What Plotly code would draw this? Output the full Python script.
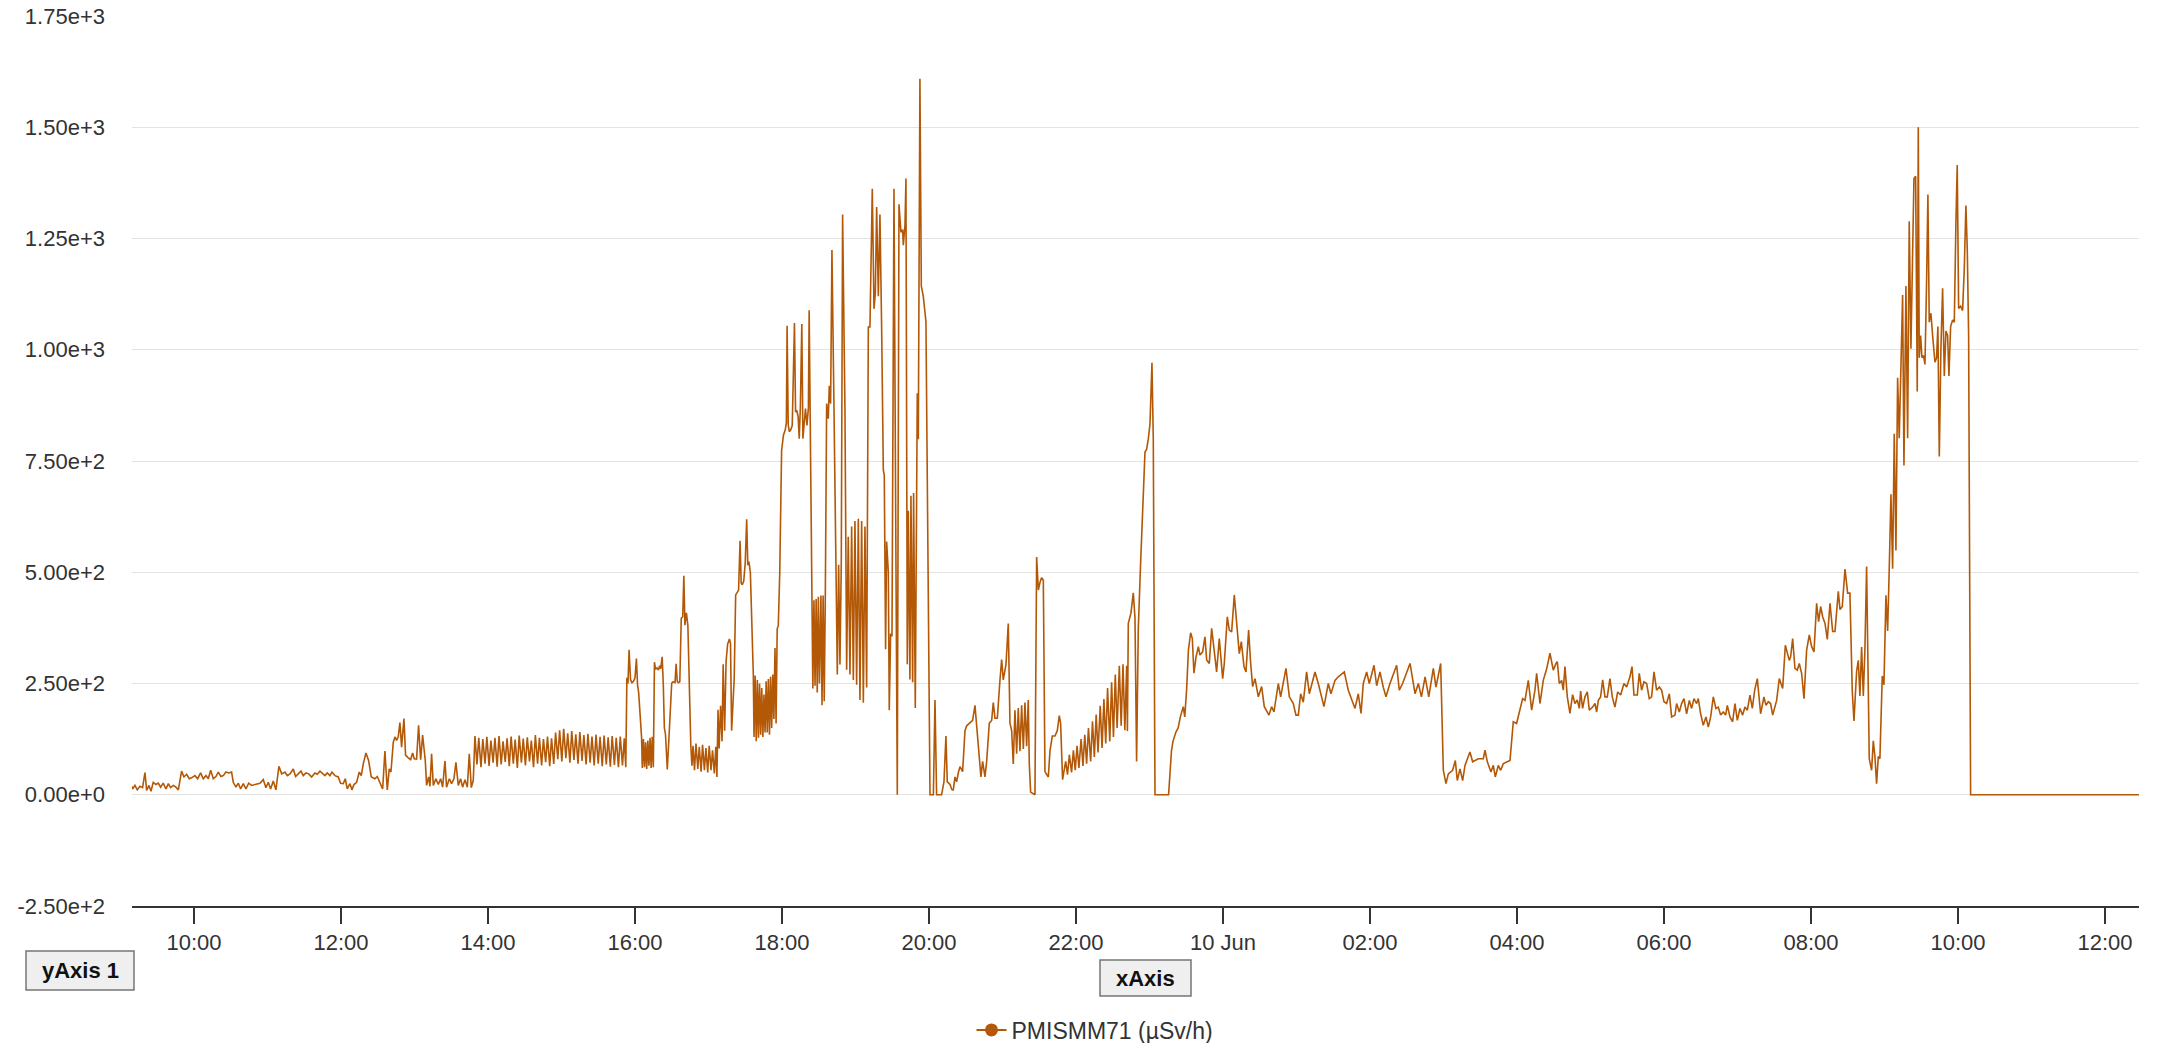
import pandas as pd
import plotly.graph_objects as go

# ---- data: (hours since 2024-06-09 00:00, value in µSv/h) ----
seg_morning = [
    (9.157, 19), (9.165, 13), (9.197, 21), (9.229, 11), (9.265, 19), (9.301, 16), (9.333, 50), (9.356, 10),
    (9.388, 21), (9.415, 8), (9.446, 28), (9.483, 23), (9.514, 26), (9.546, 17), (9.582, 26), (9.619, 13),
    (9.651, 25), (9.682, 16), (9.719, 21), (9.755, 17), (9.787, 11), (9.832, 53), (9.864, 40), (9.9, 46),
    (9.936, 36), (9.968, 38), (10.013, 43), (10.05, 36), (10.09, 49), (10.127, 36), (10.163, 43), (10.195, 36),
    (10.227, 55), (10.263, 36), (10.299, 41), (10.331, 51), (10.367, 41), (10.399, 43), (10.435, 51), (10.471, 49),
    (10.512, 51), (10.535, 28), (10.571, 17), (10.603, 26), (10.635, 13), (10.671, 25), (10.707, 13), (10.744, 26),
    (10.784, 21), (10.83, 23), (10.898, 26), (10.943, 34), (10.979, 16), (11.011, 28), (11.043, 13), (11.079, 31),
    (11.115, 11), (11.156, 64), (11.193, 47), (11.238, 51), (11.27, 43), (11.306, 47), (11.351, 58), (11.383, 41),
    (11.419, 47), (11.456, 53), (11.487, 43), (11.524, 49), (11.56, 47), (11.601, 40), (11.646, 49), (11.678, 46),
    (11.714, 53), (11.75, 47), (11.782, 43), (11.814, 49), (11.85, 43), (11.877, 51), (11.918, 43), (11.963, 40),
    (11.995, 26), (12.031, 25), (12.059, 36), (12.086, 13), (12.122, 25), (12.149, 11), (12.177, 23), (12.213, 28),
    (12.249, 51), (12.276, 43), (12.304, 70), (12.34, 94), (12.376, 77), (12.412, 40), (12.462, 36), (12.494, 41),
    (12.53, 28), (12.567, 13), (12.598, 98), (12.63, 11), (12.657, 58), (12.68, 51), (12.712, 118), (12.735, 130),
    (12.757, 122), (12.78, 131), (12.802, 162), (12.825, 107), (12.857, 171), (12.879, 89), (12.916, 83), (12.948, 79),
    (12.975, 94), (12.997, 81), (13.029, 80), (13.056, 156), (13.084, 79), (13.111, 134), (13.147, 77), (13.165, 21),
    (13.193, 40), (13.211, 19), (13.233, 92), (13.256, 21), (13.292, 36), (13.324, 23), (13.356, 36), (13.383, 17),
    (13.415, 76), (13.437, 17), (13.474, 36), (13.505, 25), (13.537, 36), (13.564, 73), (13.596, 21), (13.628, 36),
    (13.655, 17), (13.687, 34), (13.719, 17), (13.746, 92), (13.773, 16), (13.8, 32),
]

seg_afternoon = [
    (13.823, 132), (13.85, 68), (13.875, 128), (13.905, 62), (13.93, 125), (13.96, 70), (13.985, 130), (14.015, 65),
    (14.04, 122), (14.07, 72), (14.095, 128), (14.125, 63), (14.15, 132), (14.18, 68), (14.205, 120), (14.235, 74),
    (14.26, 127), (14.29, 64), (14.315, 131), (14.345, 70), (14.37, 124), (14.40, 60), (14.425, 133), (14.455, 72),
    (14.48, 126), (14.51, 66), (14.535, 129), (14.565, 75), (14.59, 122), (14.62, 62), (14.645, 134), (14.675, 70),
    (14.70, 128), (14.73, 66), (14.755, 125), (14.785, 73), (14.81, 131), (14.84, 64), (14.865, 127), (14.895, 69),
    (14.92, 140), (14.95, 80), (14.975, 145), (15.005, 75), (15.03, 148), (15.06, 82), (15.085, 138), (15.115, 72),
    (15.14, 143), (15.17, 78), (15.195, 136), (15.225, 70), (15.25, 141), (15.28, 76), (15.305, 134), (15.335, 68),
    (15.36, 137), (15.39, 72), (15.415, 131), (15.445, 66), (15.47, 135), (15.50, 70), (15.525, 130), (15.555, 64),
    (15.58, 133), (15.61, 68), (15.635, 129), (15.665, 63), (15.69, 132), (15.72, 67), (15.745, 128), (15.775, 62),
    (15.80, 131), (15.83, 66), (15.855, 127), (15.875, 62),
    (15.89, 263), (15.905, 250), (15.92, 326), (15.94, 258), (15.96, 252), (15.98, 255), (16.00, 262), (16.02, 306),
    (16.035, 247), (16.05, 230), (16.07, 180), (16.09, 128), (16.10, 60), (16.115, 125), (16.13, 62), (16.145, 118),
    (16.16, 58), (16.175, 122), (16.19, 65), (16.205, 128), (16.22, 60), (16.235, 130), (16.25, 62), (16.265, 298),
    (16.28, 282), (16.30, 285), (16.32, 280), (16.335, 290), (16.35, 283), (16.37, 310), (16.385, 250), (16.40, 150),
    (16.415, 136), (16.44, 57), (16.465, 136), (16.49, 230), (16.50, 251), (16.52, 254), (16.545, 252), (16.56, 294),
    (16.575, 255), (16.59, 252), (16.61, 254), (16.63, 397), (16.65, 400), (16.665, 492), (16.68, 381), (16.70, 409),
    (16.72, 380), (16.76, 110),
    (16.775, 65), (16.79, 110), (16.81, 55), (16.83, 115), (16.855, 58), (16.875, 108), (16.90, 52), (16.92, 112),
    (16.945, 55), (16.965, 105), (16.99, 50), (17.01, 110), (17.035, 55), (17.055, 100), (17.08, 48), (17.10, 108),
    (17.115, 40),
    (17.13, 191), (17.145, 104), (17.165, 200), (17.185, 120), (17.20, 293), (17.22, 144), (17.24, 300), (17.26, 338),
    (17.285, 350), (17.30, 340), (17.315, 144), (17.335, 223), (17.35, 260), (17.37, 449), (17.39, 456), (17.41, 460),
    (17.43, 571), (17.445, 476), (17.46, 472), (17.48, 480), (17.50, 520), (17.52, 619), (17.535, 516), (17.55, 524),
    (17.57, 500), (17.59, 400), (17.61, 271),
    (17.62, 130), (17.635, 268), (17.65, 120), (17.665, 258), (17.68, 128), (17.695, 250), (17.71, 135), (17.725, 240),
    (17.74, 130), (17.755, 225), (17.77, 140), (17.785, 255), (17.80, 140), (17.815, 260), (17.83, 135), (17.845, 265),
    (17.86, 150), (17.875, 270), (17.89, 170), (17.905, 330), (17.92, 160), (17.935, 373), (17.95, 380), (17.97, 500),
]

seg_evening = [
    (17.995, 773), (18.02, 808), (18.045, 820), (18.06, 836), (18.07, 1054), (18.085, 832), (18.10, 816), (18.12, 820),
    (18.14, 830), (18.17, 1060), (18.185, 860), (18.20, 864), (18.22, 850), (18.235, 800), (18.25, 870), (18.27, 1058),
    (18.285, 800), (18.30, 840), (18.32, 868), (18.34, 830), (18.36, 870), (18.37, 1089), (18.39, 700), (18.40, 460),
    (18.42, 239), (18.435, 437), (18.45, 245), (18.465, 440), (18.48, 230), (18.495, 445), (18.51, 250), (18.53, 448),
    (18.545, 201), (18.56, 448), (18.575, 210), (18.59, 450),
    (18.608, 879), (18.63, 845), (18.644, 919), (18.662, 879), (18.68, 1224), (18.707, 879), (18.735, 511), (18.753, 270),
    (18.771, 517), (18.789, 293), (18.807, 520), (18.825, 1304), (18.857, 867), (18.88, 281), (18.902, 580), (18.925, 270),
    (18.948, 603), (18.971, 258), (18.993, 615), (19.016, 247), (19.039, 620), (19.061, 213), (19.084, 615), (19.107, 207),
    (19.129, 603), (19.152, 241), (19.175, 1051), (19.197, 1051), (19.229, 1362), (19.252, 1092), (19.27, 1126), (19.288, 1321),
    (19.311, 1120), (19.333, 1304), (19.356, 1051), (19.379, 730), (19.392, 718), (19.41, 327), (19.424, 569), (19.447, 500),
    (19.46, 190), (19.478, 362), (19.497, 356), (19.524, 1362), (19.551, 520), (19.569, 0), (19.592, 1327), (19.619, 1264),
    (19.642, 1270), (19.651, 1235), (19.674, 1281), (19.687, 1385), (19.705, 293), (19.719, 638), (19.741, 259), (19.755, 672),
    (19.778, 253), (19.791, 678), (19.814, 195), (19.841, 902), (19.855, 799), (19.877, 1609), (19.896, 1143), (19.923, 1120),
    (19.959, 1063), (20.014, 0), (20.06, 0), (20.082, 213), (20.104, 0), (20.172, 0), (20.204, 29), (20.231, 132),
    (20.249, 29), (20.286, 23), (20.31, 12), (20.331, 11), (20.354, 40), (20.376, 29), (20.40, 50), (20.422, 63),
    (20.458, 52), (20.49, 144), (20.513, 155), (20.558, 161), (20.594, 167), (20.626, 201), (20.649, 155), (20.685, 75),
    (20.707, 40), (20.73, 75), (20.762, 40), (20.785, 75), (20.821, 161), (20.853, 167), (20.875, 207), (20.898, 172),
    (20.93, 172), (20.966, 258), (20.989, 304), (21.011, 258), (21.048, 293), (21.079, 385), (21.102, 161), (21.125, 144),
    (21.147, 69), (21.17, 190), (21.193, 92), (21.215, 195), (21.238, 98), (21.261, 201), (21.284, 103), (21.306, 207),
    (21.329, 109), (21.351, 213), (21.365, 69), (21.383, 6), (21.442, 0), (21.465, 534), (21.488, 460), (21.51, 477),
    (21.533, 488), (21.556, 482), (21.578, 52), (21.624, 40), (21.646, 98), (21.678, 132), (21.714, 132), (21.746, 144),
    (21.773, 178), (21.791, 161), (21.818, 34),
]

seg_late = [
    (21.86, 75), (21.885, 45), (21.91, 90), (21.94, 50), (21.965, 100), (21.99, 55), (22.015, 110), (22.04, 60),
    (22.07, 125), (22.095, 65), (22.12, 135), (22.145, 70), (22.17, 150), (22.20, 75), (22.225, 165), (22.25, 85),
    (22.275, 180), (22.30, 95), (22.33, 200), (22.355, 105), (22.38, 215), (22.405, 115), (22.43, 240), (22.46, 120),
    (22.485, 253), (22.51, 130), (22.535, 270), (22.56, 150), (22.59, 290), (22.615, 155), (22.64, 293), (22.665, 145),
    (22.69, 290), (22.70, 143), (22.712, 385), (22.748, 408), (22.78, 454), (22.803, 397), (22.825, 75), (22.848, 373),
    (22.88, 523), (22.907, 638), (22.939, 770), (22.961, 776), (22.984, 799), (23.007, 833), (23.034, 971), (23.052, 799),
    (23.075, 0), (23.26, 0), (23.28, 50), (23.30, 100), (23.32, 120), (23.36, 141), (23.39, 150), (23.42, 175),
    (23.46, 198), (23.48, 175), (23.505, 235), (23.53, 325), (23.56, 364), (23.583, 351), (23.605, 273), (23.633, 309),
    (23.665, 333), (23.687, 314), (23.723, 321), (23.755, 355), (23.778, 303), (23.814, 295), (23.846, 374), (23.882, 317),
    (23.914, 276), (23.95, 351), (23.996, 261), (24.018, 295), (24.059, 400), (24.086, 370), (24.118, 366), (24.154, 449),
    (24.186, 385), (24.222, 317), (24.25, 344), (24.286, 288), (24.313, 276), (24.349, 370), (24.377, 295), (24.404, 243),
    (24.436, 261), (24.481, 220), (24.526, 243), (24.562, 198), (24.626, 179), (24.662, 198), (24.694, 186), (24.753, 250),
    (24.785, 220), (24.857, 284), (24.903, 220), (24.957, 205), (24.993, 179), (25.025, 179), (25.057, 227), (25.093, 208),
    (25.138, 276), (25.175, 227), (25.252, 276), (25.297, 250), (25.374, 198), (25.433, 250), (25.469, 227), (25.524, 257),
    (25.569, 265), (25.651, 276), (25.705, 235), (25.751, 216), (25.796, 194), (25.841, 227), (25.878, 183), (25.909, 250),
    (25.955, 276), (25.991, 250), (26.055, 291), (26.091, 245), (26.136, 276), (26.182, 241), (26.218, 220), (26.272, 250),
    (26.363, 291), (26.399, 235), (26.444, 250), (26.545, 295), (26.613, 227), (26.658, 250), (26.70, 220), (26.75, 265),
    (26.80, 220), (26.862, 284), (26.898, 242), (26.962, 295),
]

seg_night = [
    (26.998, 55), (27.034, 25), (27.066, 47), (27.125, 55), (27.161, 77), (27.188, 32), (27.225, 58), (27.261, 32),
    (27.293, 66), (27.36, 96), (27.397, 74), (27.474, 81), (27.542, 81), (27.565, 100), (27.597, 74), (27.646, 51),
    (27.678, 66), (27.705, 40), (27.746, 66), (27.778, 55), (27.814, 70), (27.905, 77), (27.95, 164), (27.995, 160),
    (28.041, 190), (28.077, 216), (28.109, 212), (28.154, 257), (28.20, 190), (28.245, 235), (28.268, 273), (28.313, 205),
    (28.358, 257), (28.404, 283), (28.449, 318), (28.494, 280), (28.531, 295), (28.549, 299), (28.576, 250), (28.608, 257),
    (28.63, 235), (28.653, 288), (28.685, 220), (28.721, 183), (28.757, 225), (28.789, 205), (28.821, 213), (28.848, 194),
    (28.866, 233), (28.893, 194), (28.925, 220), (28.957, 231), (28.984, 190), (29.03, 197), (29.061, 205), (29.084, 186),
    (29.107, 212), (29.138, 220), (29.166, 258), (29.197, 220), (29.229, 220), (29.265, 261), (29.297, 220), (29.333, 197),
    (29.37, 231), (29.41, 224), (29.456, 250), (29.492, 242), (29.537, 265), (29.565, 288), (29.592, 224), (29.637, 224),
    (29.664, 273), (29.696, 235), (29.728, 254), (29.764, 250), (29.80, 216), (29.832, 220), (29.864, 276), (29.90, 235),
    (29.937, 242), (29.968, 235), (30.0, 209), (30.036, 205), (30.073, 227), (30.104, 175), (30.15, 179), (30.172, 205),
    (30.209, 186), (30.24, 205), (30.272, 216), (30.308, 182), (30.345, 212), (30.376, 194), (30.408, 216), (30.444, 205),
    (30.467, 216), (30.499, 182), (30.535, 156), (30.571, 175), (30.603, 152), (30.635, 175), (30.671, 220), (30.707, 194),
    (30.739, 197), (30.771, 179), (30.807, 186), (30.839, 179), (30.862, 201), (30.898, 175), (30.934, 164), (30.966, 205),
    (30.998, 167), (31.034, 194), (31.07, 179), (31.102, 197), (31.134, 190), (31.17, 224), (31.202, 194), (31.234, 235),
    (31.27, 261), (31.315, 182), (31.36, 220), (31.388, 201), (31.419, 209), (31.451, 205), (31.479, 179), (31.51, 201),
    (31.533, 212), (31.569, 261), (31.615, 239), (31.651, 336), (31.678, 317), (31.705, 302), (31.723, 310), (31.751, 351),
    (31.782, 284), (31.814, 280), (31.841, 295), (31.873, 273), (31.905, 216), (31.941, 325), (31.977, 359), (32.009, 333),
    (32.041, 321), (32.077, 430), (32.104, 389), (32.132, 423), (32.159, 400), (32.191, 385), (32.222, 349), (32.259, 430),
    (32.295, 367), (32.327, 367), (32.372, 457), (32.395, 416), (32.426, 423), (32.463, 507), (32.499, 453),
]

seg_morning2 = [
    (32.53, 453), (32.562, 232), (32.585, 166), (32.621, 277), (32.644, 302), (32.666, 222), (32.689, 332), (32.712, 222),
    (32.734, 327), (32.757, 513), (32.77, 317), (32.793, 81), (32.825, 55), (32.848, 121), (32.87, 86), (32.893, 25),
    (32.916, 86), (32.938, 81), (32.97, 267), (32.993, 247), (33.02, 448), (33.043, 368), (33.065, 508), (33.088, 675),
    (33.111, 508), (33.133, 811), (33.156, 549), (33.179, 937), (33.201, 801), (33.224, 992), (33.247, 1123), (33.265, 740),
    (33.292, 1143), (33.315, 801), (33.337, 1289), (33.36, 1002), (33.383, 1229), (33.401, 1385), (33.424, 1390), (33.446, 906),
    (33.46, 1500), (33.473, 982), (33.492, 1032), (33.51, 982), (33.532, 987), (33.551, 967), (33.573, 1153), (33.591, 1349),
    (33.609, 1062), (33.632, 1082), (33.655, 1032), (33.687, 972), (33.709, 982), (33.727, 1052), (33.746, 760), (33.768, 1002),
    (33.791, 1138), (33.814, 941), (33.836, 1042), (33.859, 1032), (33.877, 941), (33.90, 1052), (33.927, 1067), (33.95, 1062),
    (33.972, 1284), (33.99, 1415), (34.009, 1093), (34.036, 1098), (34.063, 1088), (34.086, 1183), (34.108, 1324), (34.127, 1223),
    (34.145, 1032), (34.172, 0), (35.0, 0), (36.463, 0),
]

x_tick_hours = [10, 12, 14, 16, 18, 20, 22, 24, 26, 28, 30, 32, 34, 36]
x_tick_text = ["10:00", "12:00", "14:00", "16:00", "18:00", "20:00", "22:00", "10 Jun",
               "02:00", "04:00", "06:00", "08:00", "10:00", "12:00"]
y_tick_vals = [-250, 0, 250, 500, 750, 1000, 1250, 1500, 1750]
y_tick_text = ["-2.50e+2", "0.00e+0", "2.50e+2", "5.00e+2", "7.50e+2", "1.00e+3", "1.25e+3", "1.50e+3", "1.75e+3"]

series_name = "PMISMM71 (µSv/h)"
LINE_COLOR = "#b35806"

# ---- build ----
base = pd.Timestamp("2024-06-09 00:00:00")
points = seg_morning + seg_afternoon + seg_evening + seg_late + seg_night + seg_morning2
hours = [p[0] for p in points]
values = [p[1] for p in points]
times = [base + pd.Timedelta(hours=h) for h in hours]

fig = go.Figure()
fig.add_trace(go.Scatter(x=times, y=values, mode="lines", line=dict(color=LINE_COLOR, width=1.6),
                         name=series_name, showlegend=False))
fig.add_trace(go.Scatter(x=[None], y=[None], mode="lines+markers", name=series_name,
                         line=dict(color=LINE_COLOR, width=2), marker=dict(color=LINE_COLOR, size=13)))

W, H = 2161, 1043
L, R, T, B = 132, 22, 16, 137
pw, ph = W - L - R, H - T - B


def px(x):
    return (x - L) / pw


def py(y):
    return (H - B - y) / ph


font_family = "Liberation Sans, Arial, Helvetica, sans-serif"

fig.update_layout(
    width=W, height=H,
    margin=dict(l=L, r=R, t=T, b=B, autoexpand=False),
    plot_bgcolor="white", paper_bgcolor="white",
    font=dict(family=font_family, size=22, color="#333333"),
    xaxis=dict(
        type="date",
        range=[base + pd.Timedelta(hours=9.157), base + pd.Timedelta(hours=36.463)],
        tickvals=[base + pd.Timedelta(hours=h) for h in x_tick_hours],
        ticktext=x_tick_text,
        ticks="outside", ticklen=16, tickwidth=2, tickcolor="#333333",
        showline=True, linecolor="#333333", linewidth=2,
        showgrid=False, zeroline=False, automargin=False,
        tickfont=dict(size=22, color="#333333"),
    ),
    yaxis=dict(
        range=[-250, 1750],
        tickvals=y_tick_vals, ticktext=y_tick_text,
        showgrid=True, gridcolor="#e3e3e3", gridwidth=1,
        zeroline=False, showline=False, ticks="", automargin=False,
        ticklabelstandoff=26,
        tickfont=dict(size=22, color="#333333"),
    ),
    legend=dict(orientation="h", xref="container", yref="container",
                x=1095 / W, xanchor="center", y=1 - 1030 / H, yanchor="middle",
                font=dict(size=23, color="#333333"), bgcolor="rgba(0,0,0,0)"),
    shapes=[
        dict(type="rect", xref="paper", yref="paper", x0=px(26), x1=px(134), y0=py(990), y1=py(951),
             fillcolor="#efefef", line=dict(color="#767676", width=1.5), layer="above"),
        dict(type="rect", xref="paper", yref="paper", x0=px(1100), x1=px(1191), y0=py(996), y1=py(960),
             fillcolor="#efefef", line=dict(color="#767676", width=1.5), layer="above"),
    ],
    annotations=[
        dict(text="<b>yAxis 1</b>", xref="paper", yref="paper", x=px(80), y=py(970.5), showarrow=False,
             font=dict(family=font_family, size=22, color="#111111"), xanchor="center", yanchor="middle"),
        dict(text="<b>xAxis</b>", xref="paper", yref="paper", x=px(1145.5), y=py(978), showarrow=False,
             font=dict(family=font_family, size=22, color="#111111"), xanchor="center", yanchor="middle"),
    ],
)

fig.write_html("out.html", config={"displayModeBar": False},
               post_script="document.body.style.margin='0px';document.body.style.overflow='hidden';")
